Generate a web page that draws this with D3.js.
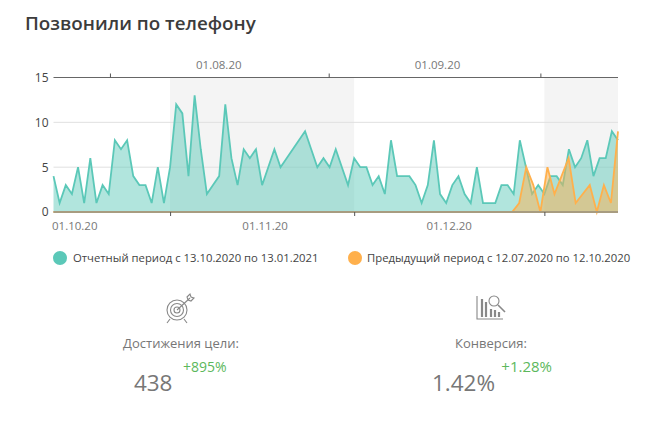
<!DOCTYPE html>
<html>
<head>
<meta charset="utf-8">
<script src="https://cdn.jsdelivr.net/npm/d3@7"></script>
<style>
  html, body { margin: 0; padding: 0; background: #fff; }
  text { font-family: "Open Sans", sans-serif; }
  .axis path { display: none; }
</style>
</head>
<body>
<div id="my_dataviz"></div>
<script>
const chartTitle = "Позвонили по телефону";
const legendLabels = ["Отчетный период с 13.10.2020 по 13.01.2021", "Предыдущий период с 12.07.2020 по 12.10.2020"];
const yTicks = [0, 5, 10, 15];

// calls per day, current period starts 13.10.2020
const currentValues = [
  4, 1, 3, 2, 5, 1, 6, 1, 3, 2, 8, 7, 8, 4, 3, 3, 1, 5, 1, 5,
  12, 11, 4, 13, 7, 2, 3, 4, 12, 6, 3, 7, 6, 7, 3, 5, 7, 5, 6, 7,
  8, 9, 7, 5, 6, 5, 7, 5, 3, 6, 5, 5, 3, 4, 2, 8, 4, 4, 4, 3,
  1, 3, 8, 2, 1, 3, 4, 2, 1, 5, 1, 1, 1, 3, 3, 2, 8, 5, 2, 3,
  2, 4, 4, 3, 7, 5, 6, 8, 4, 6, 6, 9, 8
];
// previous period on its own time axis, starts 24.07.2020
const previousValues = [
  0, 0, 0, 0, 0, 0, 0, 0, 0, 0, 0, 0, 0, 0, 0, 0, 0, 0, 0, 0,
  0, 0, 0, 0, 0, 0, 0, 0, 0, 0, 0, 0, 0, 0, 0, 0, 0, 0, 0, 0,
  0, 0, 0, 0, 0, 0, 0, 0, 0, 0, 0, 0, 0, 0, 0, 0, 0, 0, 0, 0,
  0, 0, 0, 0, 0,
  0, 1, 5, 3, 0, 5, 2, 4, 6, 1, 2, 3, 0, 3, 1, 9
];

const currentStart = new Date(2020, 9, 13);
const previousStart = new Date(2020, 6, 24);
const currentMonths = [new Date(2020, 10, 1), new Date(2020, 11, 1), new Date(2021, 0, 1)];
const previousMonths = [new Date(2020, 7, 1), new Date(2020, 8, 1), new Date(2020, 9, 1)];

const metrics = [
  { name: "Достижения цели:", value: "438", delta: "+895%" },
  { name: "Конверсия:", value: "1.42%", delta: "+1.28%" }
];

const tealColor = "#5bc8b8";
const orangeColor = "#ffb04c";

const margin = { top: 77.5, right: 618, bottom: 212, left: 53.5 };

const svg = d3.select("#my_dataviz")
  .append("svg")
    .attr("width", 655)
    .attr("height", 431)
    .style("display", "block");

svg.append("text")
  .attr("x", 25).attr("y", 30)
  .attr("font-size", 18.8).attr("font-weight", 600).attr("fill", "#3c3c3c")
  .text(chartTitle);

const current = currentValues.map((v, i) => ({ date: d3.timeDay.offset(currentStart, i), value: v }));
const previous = previousValues.map((v, i) => ({ date: d3.timeDay.offset(previousStart, i), value: v }));

const x = d3.scaleTime().domain(d3.extent(current, d => d.date)).range([margin.left, margin.right]);
const xPrev = d3.scaleTime().domain(d3.extent(previous, d => d.date)).range([margin.left, margin.right]);
const y = d3.scaleLinear().domain([0, 15]).range([margin.bottom, margin.top]);

// Gray bands on every other month
const bands = [[currentMonths[0], currentMonths[1]], [currentMonths[2], x.domain()[1]]];
svg.append("g").selectAll("rect")
  .data(bands)
  .join("rect")
    .attr("x", d => x(d[0]))
    .attr("y", margin.top)
    .attr("width", d => x(d[1]) - x(d[0]))
    .attr("height", margin.bottom - margin.top)
    .attr("fill", "#f4f4f4");

// Y axis with grid lines
const yAxis = svg.append("g")
  .attr("class", "axis")
  .attr("transform", `translate(${margin.left},0)`)
  .call(d3.axisLeft(y).tickValues(yTicks).tickSize(0).tickPadding(5));
yAxis.selectAll("text").attr("font-size", 12).attr("fill", "#444").style("font-family", "'Open Sans', sans-serif");

svg.append("g").selectAll("line")
  .data(yTicks)
  .join("line")
    .attr("x1", margin.left).attr("x2", margin.right)
    .attr("y1", d => y(d)).attr("y2", d => y(d))
    .attr("stroke", d => d === 15 ? "#666" : "#e0e0e0")
    .attr("stroke-width", 1);

// Areas and lines
function drawSeries(data, scale, color) {
  const area = d3.area().x(d => scale(d.date)).y0(y(0)).y1(d => y(d.value));
  const line = d3.line().x(d => scale(d.date)).y(d => y(d.value));
  svg.append("path").datum(data).attr("d", area).attr("fill", color).attr("fill-opacity", 0.48);
  svg.append("path").datum(data).attr("d", line).attr("fill", "none").attr("stroke", color).attr("stroke-width", 1.8);
}
drawSeries(current, x, tealColor);
drawSeries(previous, xPrev, orangeColor);

// Baseline covers the flat part of the orange line
svg.append("line")
  .attr("x1", margin.left).attr("x2", margin.right)
  .attr("y1", y(0)).attr("y2", y(0))
  .attr("stroke", "#a89c80").attr("stroke-width", 2);

// Month ticks
svg.append("g")
  .attr("class", "axis")
  .attr("transform", `translate(0,${margin.bottom})`)
  .call(d3.axisBottom(x).tickValues(currentMonths).tickFormat("").tickSize(4))
  .selectAll("line").attr("stroke", "#555");
svg.append("g")
  .attr("class", "axis")
  .attr("transform", `translate(0,${margin.top})`)
  .call(d3.axisTop(xPrev).tickValues(previousMonths).tickFormat("").tickSize(4))
  .selectAll("line").attr("stroke", "#555");

// Month labels sit in the middle of the month
const fmt = d3.timeFormat("%d.%m.%y");
function monthLabel(date, scale, yPos) {
  svg.append("text")
    .attr("x", scale(d3.timeDay.offset(date, 15)) + 3)
    .attr("y", yPos)
    .attr("text-anchor", "middle")
    .attr("font-size", 11.5).attr("fill", "#777")
    .text(fmt(date));
}
monthLabel(currentMonths[0], x, 230);
monthLabel(currentMonths[1], x, 230);
monthLabel(previousMonths[0], xPrev, 69);
monthLabel(previousMonths[1], xPrev, 69);
svg.append("text")
  .attr("x", 52).attr("y", 230)
  .attr("font-size", 11.5).attr("fill", "#777")
  .text(fmt(new Date(2020, 9, 1)));

// Legend
const legendX = [60, 355];
const legendTextX = [73, 367];
[tealColor, orangeColor].forEach((c, i) => {
  svg.append("circle").attr("cx", legendX[i]).attr("cy", 258).attr("r", 7).attr("fill", c);
  svg.append("text")
    .attr("x", legendTextX[i]).attr("y", 262)
    .attr("font-size", 11.3).attr("fill", "#444")
    .text(legendLabels[i]);
});

// Metrics
const metricX = [181, 491];
const valueX = [172.5, 495];
const deltaX = [226.5, 552];
const deltaSize = [14, 15];
metrics.forEach((m, i) => {
  svg.append("text")
    .attr("x", metricX[i]).attr("y", 348)
    .attr("text-anchor", "middle")
    .attr("font-size", 13).attr("fill", "#777")
    .text(m.name);
  svg.append("text")
    .attr("x", valueX[i]).attr("y", 391)
    .attr("text-anchor", "end")
    .attr("font-size", 22.5).attr("fill", "#777")
    .text(m.value);
  svg.append("text")
    .attr("x", deltaX[i]).attr("y", 372)
    .attr("text-anchor", "end")
    .attr("font-size", deltaSize[i]).attr("font-weight", 500).attr("fill", "#5cb85c")
    .text(m.delta);
});

// Target icon
const target = svg.append("g").attr("fill", "none").attr("stroke", "#888").attr("stroke-width", 1.1);
[10, 6.5, 3].forEach(r => target.append("circle").attr("cx", 177).attr("cy", 310).attr("r", r));
target.append("path").attr("d", "M177 310L190 298M187 297l3 -3l1 3l3 1l-3 3l-3 -1z");
target.append("path").attr("d", "M170 319l-3 4M184 319l3 4");

// Chart icon
const chartIcon = svg.append("g").attr("fill", "none").attr("stroke", "#888").attr("stroke-width", 1.1);
chartIcon.append("path").attr("d", "M477 296V319H503");
chartIcon.append("circle").attr("cx", 494).attr("cy", 301).attr("r", 5);
chartIcon.append("path").attr("stroke-width", 1.6).attr("d", "M498 305L505 312");
chartIcon.append("path").attr("stroke-width", 2.2).attr("d", "M482 317V299M486 317V302M491 317V309M495 317V310M499 317V312");
</script>
</body>
</html>
